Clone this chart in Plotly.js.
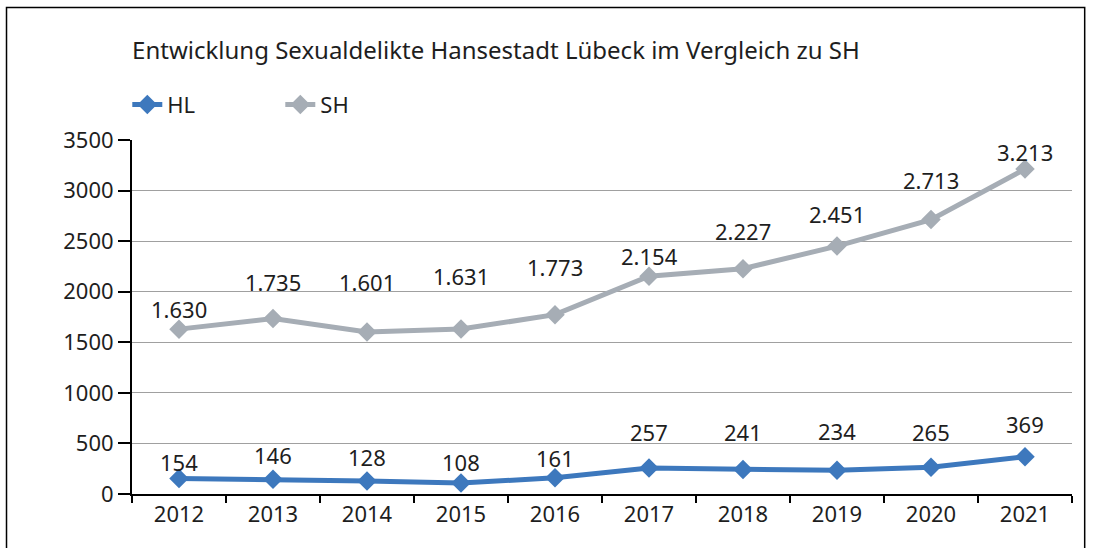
<!DOCTYPE html>
<html>
<head>
<meta charset="utf-8">
<script src="https://cdn.plot.ly/plotly-3.0.1.min.js"></script>
<style>
  html, body { margin: 0; padding: 0; background: #ffffff; }
  #chart { width: 1096px; height: 548px; }
</style>
</head>
<body>
<div id="chart"></div>
<script>
// ---- Data ----
const years = ['2012','2013','2014','2015','2016','2017','2018','2019','2020','2021'];
const hlValues = [154, 146, 128, 108, 161, 257, 241, 234, 265, 369];
const shValues = [1630, 1735, 1601, 1631, 1773, 2154, 2227, 2451, 2713, 3213];
const seriesNames = ['HL', 'SH'];
const yTicks = [0, 500, 1000, 1500, 2000, 2500, 3000, 3500];

// label vertical offsets (pixels above the point)
const hlLabelShift = [16, 24, 24, 21, 20, 36, 38, 39, 35, 33];
const shLabelShift = [20, 37, 50, 53, 48, 20, 38, 32, 40, 17];

const FONT = '"Noto Sans", "Open Sans", sans-serif';
const blue = '#3d78bd';
const gray = '#a6adb5';
const TXT = '#1e1e1e';

function fmtDE(v) {
  return String(v).replace(/\B(?=(\d{3})+(?!\d))/g, '.');
}

const traces = [
  {
    x: years, y: hlValues, name: seriesNames[0], type: 'scatter', mode: 'lines+markers',
    line: { color: blue, width: 5 },
    marker: { symbol: 'diamond', size: 15, color: blue }
  },
  {
    x: years, y: shValues, name: seriesNames[1], type: 'scatter', mode: 'lines+markers',
    line: { color: gray, width: 5 },
    marker: { symbol: 'diamond', size: 15, color: gray }
  }
];

const annotations = [];
years.forEach((yr, i) => {
  annotations.push({ x: i, y: hlValues[i], xref: 'x', yref: 'y', text: fmtDE(hlValues[i]),
    showarrow: false, yshift: hlLabelShift[i], font: { family: FONT, size: 22, color: TXT } });
  annotations.push({ x: i, y: shValues[i], xref: 'x', yref: 'y', text: fmtDE(shValues[i]),
    showarrow: false, yshift: shLabelShift[i], font: { family: FONT, size: 22, color: TXT } });
});

const layout = {
  width: 1096, height: 548,
  margin: { l: 132, r: 24, t: 140, b: 54 },
  paper_bgcolor: '#ffffff', plot_bgcolor: '#ffffff',
  font: { family: FONT, size: 22, color: TXT },
  title: {
    text: 'Entwicklung Sexualdelikte Hansestadt Lübeck im Vergleich zu SH',
    font: { family: FONT, size: 24, color: TXT },
    x: 0.1205, xref: 'container', xanchor: 'left',
    y: 0.908, yref: 'container', yanchor: 'middle'
  },
  showlegend: true,
  legend: {
    orientation: 'h', x: -0.005, xanchor: 'left', y: 1.10, yanchor: 'middle',
    font: { family: FONT, size: 22, color: TXT },
    entrywidth: 108, entrywidthmode: 'pixels', bgcolor: 'rgba(0,0,0,0)'
  },
  xaxis: {
    type: 'category', range: [-0.5, 9.5],
    showline: true, linecolor: '#000', linewidth: 2,
    ticks: 'outside', ticklen: 7, tickcolor: '#000', tickwidth: 2,
    tickson: 'boundaries',
    showgrid: false, zeroline: false,
    tickfont: { family: FONT, size: 22, color: TXT }
  },
  yaxis: {
    range: [0, 3500], tickvals: yTicks, ticktext: yTicks.map(String),
    showline: true, linecolor: '#000', linewidth: 2,
    ticks: 'outside', ticklen: 12, tickcolor: '#000', tickwidth: 2,
    showgrid: true, gridcolor: '#a0a0a0', gridwidth: 1,
    zeroline: false,
    tickfont: { family: FONT, size: 22, color: TXT }
  },
  shapes: [{
    type: 'rect', xref: 'paper', yref: 'paper',
    x0: -0.1335, x1: 1.0135, y0: -0.3, y1: 1.374,
    line: { color: '#000', width: 1.5 }, fillcolor: 'rgba(0,0,0,0)', layer: 'below'
  }],
  annotations: annotations
};

Plotly.newPlot('chart', traces, layout, { displayModeBar: false, staticPlot: true });
</script>
</body>
</html>
